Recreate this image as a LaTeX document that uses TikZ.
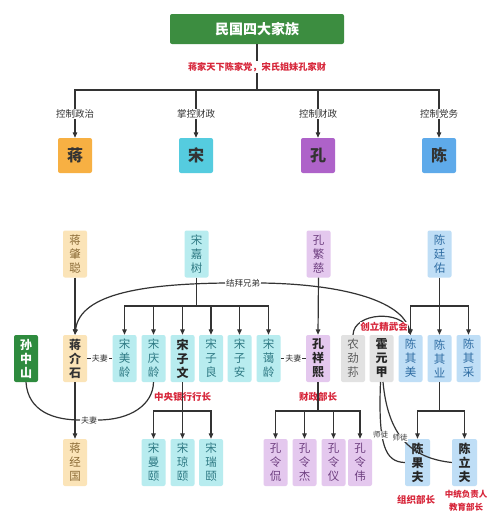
\documentclass[tikz,border=0pt]{standalone}
\usepackage{fontspec}
\setmainfont{Noto Sans CJK SC}
\usetikzlibrary{arrows.meta}
\definecolor{tgreen}{HTML}{3C8D40}
\definecolor{sgreen}{HTML}{2E8B3E}
\definecolor{jorange}{HTML}{F7B043}
\definecolor{scyan}{HTML}{55CCDF}
\definecolor{kpurple}{HTML}{AE62C9}
\definecolor{cblue}{HTML}{5EAAEA}
\definecolor{jlight}{HTML}{FBE4B8}
\definecolor{slight}{HTML}{B8ECEF}
\definecolor{klight}{HTML}{E4C8EE}
\definecolor{clight}{HTML}{BFDEF6}
\definecolor{glight}{HTML}{E2E2E2}
\definecolor{redtxt}{HTML}{D7263A}
\definecolor{linec}{HTML}{333333}
\definecolor{jtxt}{HTML}{8A6A35}
\definecolor{stxt}{HTML}{2F7A84}
\definecolor{ktxt}{HTML}{6E3F80}
\definecolor{ctxt}{HTML}{2F6DA3}
\definecolor{gtxt}{HTML}{5A5A5A}
\tikzset{
  topbox/.style={rounded corners=2pt, minimum width=34pt, minimum height=35pt, inner sep=0pt, font=\fontsize{16}{17}\selectfont\bfseries},
  vbox/.style={rounded corners=2pt, minimum width=24pt, minimum height=47pt, inner sep=0pt, align=center, font=\fontsize{11.5}{14}\selectfont},
  bvbox/.style={vbox, font=\fontsize{12}{14}\selectfont\bfseries},
  lbl/.style={fill=white, inner sep=1pt, font=\fontsize{9.5}{10}\selectfont, text=linec},
  slbl/.style={fill=white, inner sep=0.8pt, font=\fontsize{8}{9}\selectfont, text=linec},
  rlbl/.style={inner sep=1pt, font=\fontsize{9.5}{10}\selectfont\bfseries, text=redtxt},
  conn/.style={draw=linec, line width=1.2pt},
  arr/.style={conn, -{Triangle[length=5.5pt,width=4.5pt]}},
}
\begin{document}
\begin{tikzpicture}[x=1pt,y=-1pt]
\useasboundingbox[fill=white] (0,0) rectangle (500,530);
% title
\node[fill=tgreen, rounded corners=2pt, minimum width=174pt, minimum height=30pt, text=white, font=\fontsize{14}{15}\selectfont\bfseries] (title) at (257,29) {民国四大家族};
\coordinate (hub) at (257,90);
% top families
\node[topbox, fill=jorange, text=black!80] (J) at (75,155.5) {蒋};
\node[topbox, fill=scyan, text=black!80] (S) at (196,155.5) {宋};
\node[topbox, fill=kpurple, text=black!80] (K) at (318,155.5) {孔};
\node[topbox, fill=cblue, text=black!80] (C) at (439,155.5) {陈};
\draw[conn] (title.south) -- (hub);
\node[rlbl, fill=white, font=\fontsize{9.2}{10}\selectfont\bfseries] (motto) at (257,67) {蒋家天下陈家党，宋氏姐妹孔家财};
\draw[arr] (hub) -| node[pos=0.75, lbl]{控制政治} (J.north);
\draw[arr] (hub) -| node[pos=0.75, lbl]{掌控财政} (S.north);
\draw[arr] (hub) -| node[pos=0.75, lbl]{控制财政} (K.north);
\draw[arr] (hub) -| node[pos=0.75, lbl]{控制党务} (C.north);
% generation 1
\node[vbox, fill=jlight, text=jtxt] (jzc) at (75,254) {蒋\\肇\\聪};
\node[vbox, fill=slight, text=stxt] (sjs) at (196.5,254) {宋\\嘉\\树};
\node[vbox, fill=klight, text=ktxt] (kfc) at (318.5,254) {孔\\繁\\慈};
\node[vbox, fill=clight, text=ctxt] (cty) at (439.5,254) {陈\\廷\\佑};
% generation 2
\node[bvbox, fill=sgreen, text=white] (szs) at (26,358.5) {孙\\中\\山};
\node[bvbox, fill=jlight, text=black!80] (jjs) at (75,358.5) {蒋\\介\\石};
\node[vbox, fill=slight, text=stxt] (sml) at (124.5,358.5) {宋\\美\\龄};
\node[vbox, fill=slight, text=stxt] (sql) at (153.5,358.5) {宋\\庆\\龄};
\node[bvbox, fill=slight, text=black!85] (szw) at (182.5,358.5) {宋\\子\\文};
\node[vbox, fill=slight, text=stxt] (szl) at (211,358.5) {宋\\子\\良};
\node[vbox, fill=slight, text=stxt] (sza) at (239.5,358.5) {宋\\子\\安};
\node[vbox, fill=slight, text=stxt] (sal) at (268.5,358.5) {宋\\蔼\\龄};
\node[bvbox, fill=klight, text=black!85] (kxx) at (318,358.5) {孔\\祥\\熙};
\node[vbox, fill=glight, text=gtxt] (njs) at (353,358.5) {农\\劲\\荪};
\node[bvbox, fill=glight, text=black!85] (hyj) at (381.5,358.5) {霍\\元\\甲};
\node[vbox, fill=clight, text=ctxt] (cqm) at (410.5,358.5) {陈\\其\\美};
\node[vbox, fill=clight, text=ctxt] (cqy) at (439.5,358.5) {陈\\其\\业};
\node[vbox, fill=clight, text=ctxt] (cqc) at (468.5,358.5) {陈\\其\\采};
% generation 3
\node[vbox, fill=jlight, text=jtxt] (jjg) at (75,462.5) {蒋\\经\\国};
\node[vbox, fill=slight, text=stxt] (smy) at (153.5,462.5) {宋\\曼\\颐};
\node[vbox, fill=slight, text=stxt] (sqy) at (182.5,462.5) {宋\\琼\\颐};
\node[vbox, fill=slight, text=stxt] (sry) at (211,462.5) {宋\\瑞\\颐};
\node[vbox, fill=klight, text=ktxt] (klk) at (275.5,462.5) {孔\\令\\侃};
\node[vbox, fill=klight, text=ktxt] (klj) at (304.5,462.5) {孔\\令\\杰};
\node[vbox, fill=klight, text=ktxt] (kly) at (333.5,462.5) {孔\\令\\仪};
\node[vbox, fill=klight, text=ktxt] (klw) at (360,462.5) {孔\\令\\伟};
\node[bvbox, fill=clight, text=black!85, minimum width=25pt] (cgf) at (417.5,462.5) {陈\\果\\夫};
\node[bvbox, fill=clight, text=black!85, minimum width=25pt] (clf) at (464.5,462.5) {陈\\立\\夫};
% parent links
\draw[arr] (jzc.south) -- (jjs.north);
\draw[arr] (kfc.south) -- (kxx.north);
\coordinate (sb) at (196.5,306);
\draw[conn] (sjs.south) -- (sb);
\foreach \n in {sml,sql,szw,szl,sza,sal} \draw[arr] (sb) -| (\n.north);
\coordinate (cb) at (439.5,306);
\draw[conn] (cty.south) -- (cb);
\foreach \n in {cqm,cqy,cqc} \draw[arr] (cb) -| (\n.north);
\draw[arr] (jjs.south) -- (jjg.north);
% Song Ziwen branch
\node[rlbl] (zyyh) at (182.5,397) {中央银行行长};
\coordinate (zb) at (182.5,411);
\draw[conn] (szw.south) -- (zb);
\foreach \n in {smy,sqy,sry} \draw[arr] (zb) -| (\n.north);
% Kong branch
\node[rlbl] (czbz) at (318,397) {财政部长};
\coordinate (kb) at (318,411);
\draw[conn] (kxx.south) -- (kb);
\foreach \n in {klk,klj,kly,klw} \draw[arr] (kb) -| (\n.north);
% Chen branch
\coordinate (cb2) at (439.5,411);
\draw[conn] (cqy.south) -- (cb2);
\foreach \n in {cgf,clf} \draw[arr] (cb2) -| (\n.north);
% sworn brothers
\node[slbl, font=\fontsize{8.5}{9}\selectfont] (jbxd) at (243,283) {结拜兄弟};
\draw[arr] (jbxd.west) .. controls (150,284) and (80,292) .. (jjs.north);
\draw[arr] (jbxd.east) .. controls (340,284) and (402,300) .. (cqm.north);
% Jingwu
\draw[arr] (njs.north) .. controls (354,312) and (402,310) .. (cqm.north);
\node[rlbl, fill=white, inner sep=0.5pt] (jwh) at (384,327) {创立精武会};
% spouses
\draw[conn] (jjs.east) -- node[slbl]{夫妻} (sml.west);
\draw[conn] (sal.east) -- node[slbl]{夫妻} (kxx.west);
\node[slbl] (fq3) at (89,420) {夫妻};
\draw[conn] (szs.south) .. controls (28,412) and (55,420) .. (fq3.west);
\draw[conn] (fq3.east) .. controls (130,420) and (153,405) .. (sql.south);
% master-disciple
\coordinate (h1) at (380.5,382);
\coordinate (h2) at (383,382);
\draw[conn] (h1) .. controls (378,445) and (385,462) .. (cgf.west);
\draw[conn] (h2) .. controls (388,435) and (410,458) .. (clf.west);
\node[slbl, font=\fontsize{7.5}{8}\selectfont] (st1) at (380.5,435) {师徒};
\node[slbl, font=\fontsize{7.5}{8}\selectfont] (st2) at (400,438) {师徒};
% titles below
\node[rlbl] (zzbz) at (416,500) {组织部长};
\node[rlbl, font=\fontsize{8.5}{9}\selectfont\bfseries] (clf1) at (466,494) {中统负责人};
\node[rlbl, font=\fontsize{8.5}{9}\selectfont\bfseries] (clf2) at (466,507) {教育部长};
\end{tikzpicture}
\end{document}
